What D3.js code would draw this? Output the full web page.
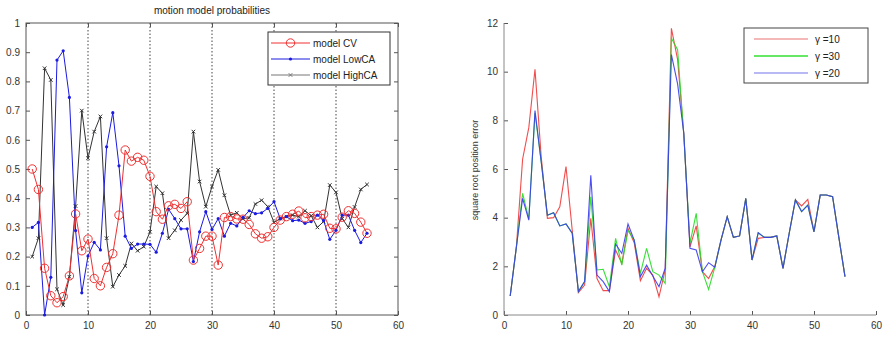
<!DOCTYPE html>
<html>
<head>
<meta charset="utf-8">
<script src="https://cdn.jsdelivr.net/npm/d3@7"></script>
<style>
  body { margin: 0; background: #fff; }
  svg { display: block; font-family: "Liberation Sans", Arial, sans-serif; }
</style>
</head>
<body>
<svg id="chart" width="887" height="340"></svg>
<script>
// step index shared by both panels
var steps = d3.range(1, 56);

// left panel: model probabilities
var cvProb = [0.50,0.43,0.16,0.066,0.042,0.063,0.134,0.346,0.22,0.26,
              0.125,0.10,0.163,0.21,0.342,0.565,0.527,0.54,0.53,0.475,
              0.354,0.328,0.374,0.379,0.365,0.388,0.188,0.228,0.27,0.27,
              0.171,0.334,0.337,0.329,0.328,0.31,0.278,0.263,0.268,0.30,
              0.325,0.337,0.345,0.356,0.333,0.337,0.342,0.345,0.297,0.295,
              0.335,0.357,0.348,0.318,0.28];
var lowCaProb = [0.30,0.317,0.0,0.129,0.873,0.905,0.745,0.289,0.076,0.202,
                 0.249,0.223,0.576,0.693,0.511,0.27,0.228,0.243,0.243,0.242,
                 0.215,0.28,0.362,0.33,0.295,0.295,0.183,0.285,0.354,0.293,
                 0.33,0.27,0.314,0.305,0.334,0.357,0.347,0.35,0.365,0.388,
                 0.33,0.337,0.323,0.325,0.314,0.32,0.342,0.323,0.259,0.29,
                 0.342,0.342,0.29,0.248,0.28];
var highCaProb = [0.20,0.263,0.845,0.805,0.088,0.034,0.131,0.373,0.70,0.537,
                  0.628,0.68,0.263,0.097,0.137,0.168,0.245,0.22,0.234,0.285,
                  0.44,0.417,0.263,0.29,0.325,0.348,0.628,0.457,0.371,0.44,
                  0.497,0.41,0.342,0.35,0.33,0.333,0.38,0.393,0.371,0.317,
                  0.33,0.337,0.342,0.337,0.357,0.34,0.30,0.32,0.445,0.42,
                  0.33,0.30,0.37,0.43,0.447];
var probTicksX = [0,10,20,30,40,50,60];
var probTicksY = [0,0.1,0.2,0.3,0.4,0.5,0.6,0.7,0.8,0.9,1];
var probGrid = [10,20,30,40,50];

// right panel: square root position error
var errG10 = [0.78,2.8,6.4,7.7,10.1,6.5,3.97,4.0,4.45,6.1,
              3.5,0.92,1.23,3.97,1.5,1.0,1.0,2.67,2.12,3.56,
              2.97,1.41,1.92,1.64,0.75,1.85,11.78,10.5,7.45,2.8,
              3.66,1.78,1.5,1.99,3.08,4.04,3.19,3.25,4.79,2.26,
              3.15,3.19,3.19,3.25,1.92,3.36,4.73,4.48,4.75,3.42,
              4.93,4.93,4.86,3.2,1.58];
var errG30 = [0.78,2.8,5.0,3.95,8.3,6.3,4.1,4.2,3.66,3.74,
              3.36,0.96,1.37,4.86,1.85,1.88,1.16,3.15,2.05,3.47,
              3.08,1.71,2.74,1.78,1.64,1.3,11.37,10.9,7.4,2.95,
              4.18,1.78,1.05,1.96,3.08,4.04,3.19,3.25,4.79,2.26,
              3.38,3.19,3.19,3.25,1.92,3.36,4.73,4.25,4.52,3.42,
              4.93,4.93,4.86,3.2,1.58];
var errG20 = [0.78,2.8,4.79,3.9,8.4,6.3,4.1,4.2,3.66,3.74,
              3.36,0.96,1.37,5.74,1.64,1.37,0.96,2.92,2.53,3.74,
              3.08,1.58,2.05,1.6,1.16,1.92,10.7,9.5,7.47,2.74,
              2.67,1.78,2.15,1.96,3.08,4.04,3.19,3.25,4.79,2.26,
              3.38,3.19,3.19,3.25,1.92,3.36,4.73,4.25,4.52,3.42,
              4.93,4.93,4.86,3.2,1.58];
var errTicksX = [0,10,20,30,40,50,60];
var errTicksY = [0,2,4,6,8,10,12];

var svg = d3.select("#chart");
var axisColor = "#555";

//---------------- LEFT PANEL ----------------
var xL = d3.scaleLinear().domain([0, 60]).range([26, 398]);
var yL = d3.scaleLinear().domain([0, 1]).range([315, 23]);
var left = svg.append("g");

left.append("text")
    .attr("x", 212).attr("y", 14)
    .attr("text-anchor", "middle")
    .attr("font-size", 10).attr("fill", "#222")
    .text("motion model probabilities");

// dotted vertical grid
left.selectAll(".grid").data(probGrid).enter().append("line")
    .attr("x1", d => xL(d)).attr("x2", d => xL(d))
    .attr("y1", yL(1)).attr("y2", yL(0))
    .attr("stroke", "#444").attr("stroke-width", 1)
    .attr("stroke-dasharray", "1.5,2");

function styleAxis(g){
    g.select(".domain").remove();
    g.selectAll(".tick line").attr("stroke", axisColor);
    g.selectAll(".tick text").attr("fill", "#333").attr("font-size", 10)
        .attr("font-family", "Liberation Sans, Arial, sans-serif");
}

left.append("g").attr("transform", "translate(0," + yL(0) + ")")
    .call(d3.axisBottom(xL).tickValues(probTicksX).tickSize(-4).tickPadding(7).tickFormat(d3.format("d")))
    .call(styleAxis);
left.append("g").attr("transform", "translate(" + xL(0) + ",0)")
    .call(d3.axisLeft(yL).tickValues(probTicksY).tickSize(-4).tickPadding(6).tickFormat(d => d === 0 || d === 1 ? d : d3.format(".1f")(d)))
    .call(styleAxis);
left.append("g").attr("transform", "translate(0," + yL(1) + ")")
    .call(d3.axisTop(xL).tickValues(probTicksX).tickSize(-4).tickFormat(""))
    .call(styleAxis);
left.append("g").attr("transform", "translate(" + xL(60) + ",0)")
    .call(d3.axisRight(yL).tickValues(probTicksY).tickSize(-4).tickFormat(""))
    .call(styleAxis);

left.append("rect")
    .attr("x", xL(0)).attr("y", yL(1))
    .attr("width", xL(60) - xL(0)).attr("height", yL(0) - yL(1))
    .attr("fill", "none").attr("stroke", axisColor).attr("stroke-width", 1);

var lineL = d3.line().x((d, i) => xL(steps[i])).y(d => yL(d));

var cvColor = "#f03030", lowColor = "#1a1ae0", highColor = "#333";

left.append("path").datum(highCaProb).attr("d", lineL)
    .attr("fill", "none").attr("stroke", highColor).attr("stroke-width", 1);
left.append("path").datum(lowCaProb).attr("d", lineL)
    .attr("fill", "none").attr("stroke", lowColor).attr("stroke-width", 1);
left.append("path").datum(cvProb).attr("d", lineL)
    .attr("fill", "none").attr("stroke", cvColor).attr("stroke-width", 1);

function xMark(sel, x, y, s, color){
    sel.append("path")
        .attr("d", "M" + (x - s) + "," + (y - s) + "L" + (x + s) + "," + (y + s) +
                   "M" + (x - s) + "," + (y + s) + "L" + (x + s) + "," + (y - s))
        .attr("stroke", color).attr("stroke-width", 1);
}

var highMarks = left.append("g");
highCaProb.forEach(function(d, i){ xMark(highMarks, xL(steps[i]), yL(d), 1.8, highColor); });

left.append("g").selectAll("circle").data(lowCaProb).enter().append("circle")
    .attr("cx", (d, i) => xL(steps[i])).attr("cy", d => yL(d))
    .attr("r", 1.6).attr("fill", lowColor);

left.append("g").selectAll("circle").data(cvProb).enter().append("circle")
    .attr("cx", (d, i) => xL(steps[i])).attr("cy", d => yL(d))
    .attr("r", 4.2).attr("fill", "none").attr("stroke", cvColor).attr("stroke-width", 1);

// legend left
var legL = left.append("g");
legL.append("rect").attr("x", 268).attr("y", 32).attr("width", 122).attr("height", 53)
    .attr("fill", "#fff").attr("stroke", "#333").attr("stroke-width", 1);
var legItemsL = [
    {name: "model CV", color: cvColor, mark: "circle"},
    {name: "model LowCA", color: lowColor, mark: "dot"},
    {name: "model HighCA", color: "#777", mark: "x"}
];
legItemsL.forEach(function(d, i){
    var yy = 43 + i * 16;
    legL.append("line").attr("x1", 271).attr("x2", 310).attr("y1", yy).attr("y2", yy)
        .attr("stroke", d.color).attr("stroke-width", 1);
    if (d.mark === "circle"){
        legL.append("circle").attr("cx", 290.5).attr("cy", yy).attr("r", 4.2)
            .attr("fill", "none").attr("stroke", d.color);
    } else if (d.mark === "dot"){
        legL.append("circle").attr("cx", 290.5).attr("cy", yy).attr("r", 1.6).attr("fill", d.color);
    } else {
        xMark(legL, 290.5, yy, 1.8, d.color);
    }
    legL.append("text").attr("x", 313).attr("y", yy + 3.5)
        .attr("font-size", 10).attr("fill", "#222").text(d.name);
});

//---------------- RIGHT PANEL ----------------
var xR = d3.scaleLinear().domain([0, 60]).range([504, 876]);
var yR = d3.scaleLinear().domain([0, 12]).range([315, 23]);
var right = svg.append("g");

right.append("g").attr("transform", "translate(0," + yR(0) + ")")
    .call(d3.axisBottom(xR).tickValues(errTicksX).tickSize(-4).tickPadding(7).tickFormat(d3.format("d")))
    .call(styleAxis);
right.append("g").attr("transform", "translate(" + xR(0) + ",0)")
    .call(d3.axisLeft(yR).tickValues(errTicksY).tickSize(-4).tickPadding(6).tickFormat(d3.format("d")))
    .call(styleAxis);
right.append("line").attr("x1", xR(0)).attr("x2", xR(60)).attr("y1", yR(0)).attr("y2", yR(0))
    .attr("stroke", "#888").attr("stroke-width", 1);
right.append("line").attr("x1", xR(0)).attr("x2", xR(0)).attr("y1", yR(0)).attr("y2", yR(12))
    .attr("stroke", "#888").attr("stroke-width", 1);

right.append("text")
    .attr("transform", "translate(478,170) rotate(-90)")
    .attr("text-anchor", "middle")
    .attr("font-size", 9).attr("fill", "#333")
    .text("square root position error");

var lineR = d3.line().x((d, i) => xR(steps[i])).y(d => yR(d));
var errSeries = [
    {name: "\u03b3 =10", values: errG10, color: "#f03a3a", legend: "#f2a0a0"},
    {name: "\u03b3 =30", values: errG30, color: "#22dd22", legend: "#33e033"},
    {name: "\u03b3 =20", values: errG20, color: "#3a3aee", legend: "#a0a0f0"}
];
// draw order: red, green, blue on top
errSeries.forEach(function(s){
    right.append("path").datum(s.values).attr("d", lineR)
        .attr("fill", "none").attr("stroke", s.color).attr("stroke-width", 1.1)
        .attr("stroke-opacity", 0.9);
});

var legR = right.append("g");
legR.append("rect").attr("x", 744).attr("y", 28).attr("width", 124).attr("height", 55)
    .attr("fill", "#fff").attr("stroke", "#444").attr("stroke-width", 1);
errSeries.forEach(function(s, i){
    var yy = 39 + i * 17;
    legR.append("line").attr("x1", 754).attr("x2", 808).attr("y1", yy).attr("y2", yy)
        .attr("stroke", s.legend).attr("stroke-width", 1.3);
    legR.append("text").attr("x", 815).attr("y", yy + 4)
        .attr("font-size", 10).attr("fill", "#222").text(s.name);
});
</script>
</body>
</html>
